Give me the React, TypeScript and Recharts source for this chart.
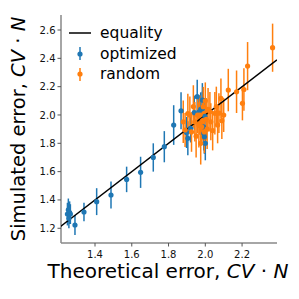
import { ScatterChart, Scatter, XAxis, YAxis, ErrorBar } from 'recharts';

const xTicks = [1.4, 1.6, 1.8, 2.0, 2.2];
const yTicks = [1.2, 1.4, 1.6, 1.8, 2.0, 2.2, 2.4, 2.6];

const equalityEnds = [1.21, 2.39];

const optTheory = [1.25, 1.255, 1.258, 1.262, 1.266, 1.291, 1.34, 1.409, 1.487, 1.572, 1.648, 1.717, 1.777, 1.828, 1.868, 1.898, 1.905, 1.92, 1.94, 1.956, 1.965, 1.975, 1.984, 1.984, 1.99, 1.992, 1.995, 1.998, 2.0];
const optSim = [1.3, 1.33, 1.27, 1.31, 1.3, 1.223, 1.315, 1.388, 1.435, 1.545, 1.595, 1.7, 1.776, 1.929, 2.03, 1.877, 1.835, 1.906, 2.016, 2.129, 2.02, 2.04, 2.105, 2.045, 1.917, 1.87, 1.846, 1.99, 1.8];
const optErr = [0.08, 0.08, 0.07, 0.08, 0.07, 0.07, 0.065, 0.095, 0.095, 0.09, 0.11, 0.1, 0.11, 0.14, 0.13, 0.11, 0.12, 0.1, 0.12, 0.12, 0.11, 0.12, 0.12, 0.12, 0.11, 0.12, 0.12, 0.13, 0.12];

const rndTheory = [1.88, 1.89, 1.905, 1.916, 1.925, 1.935, 1.943, 1.95, 1.958, 1.965, 1.97, 1.975, 1.98, 1.985, 1.989, 1.995, 2.0, 2.005, 2.01, 2.015, 2.025, 2.03, 2.04, 2.052, 2.06, 2.067, 2.074, 2.085, 2.09, 2.1, 2.125, 2.17, 2.202, 2.21, 2.23, 2.366];
const rndSim = [1.952, 1.894, 2.01, 2.0, 1.88, 2.06, 1.952, 1.85, 2.0, 1.93, 2.0, 1.8, 1.917, 1.96, 2.058, 1.88, 2.1, 1.97, 1.9, 2.04, 2.023, 1.952, 1.89, 2.012, 2.06, 1.93, 2.013, 2.117, 1.96, 2.0, 2.176, 2.164, 2.082, 2.18, 2.345, 2.475];
const rndErr = [0.15, 0.12, 0.14, 0.13, 0.14, 0.15, 0.14, 0.15, 0.13, 0.16, 0.14, 0.15, 0.13, 0.14, 0.14, 0.15, 0.13, 0.15, 0.14, 0.15, 0.14, 0.13, 0.14, 0.15, 0.14, 0.13, 0.14, 0.14, 0.13, 0.12, 0.15, 0.15, 0.12, 0.15, 0.17, 0.17];

const BLUE = '#1f77b4';
const ORANGE = '#ff7f0e';
const FONT = 'DejaVu Sans, sans-serif';

const optData = optTheory.map((x, i) => ({ x, y: optSim[i], err: optErr[i] }));
const rndData = rndTheory.map((x, i) => ({ x, y: rndSim[i], err: rndErr[i] }));
const eqData = equalityEnds.map((v) => ({ x: v, y: v }));

const Dot = (props: any) => {
  const { cx, cy, fill } = props;
  if (cx == null || cy == null) return null;
  return <circle cx={cx} cy={cy} r={2.6} fill={fill} />;
};

const MathLabel = () => (
  <>
    <tspan fontStyle="italic">CV</tspan>
    <tspan> · </tspan>
    <tspan fontStyle="italic">N</tspan>
  </>
);

const LegendBox = () => (
  <svg width={130} height={66} style={{ position: 'absolute', left: 64, top: 22, fontFamily: FONT }}>
    <line x1={5} y1={11} x2={27} y2={11} stroke="#000" strokeWidth={1.5} />
    <text x={36} y={16} fontSize={15.5}>equality</text>
    <line x1={16} y1={25} x2={16} y2={38} stroke={BLUE} strokeWidth={1.5} />
    <circle cx={16} cy={32} r={2.6} fill={BLUE} />
    <text x={36} y={37} fontSize={15.5}>optimized</text>
    <line x1={16} y1={46} x2={16} y2={59} stroke={ORANGE} strokeWidth={1.5} />
    <circle cx={16} cy={52} r={2.6} fill={ORANGE} />
    <text x={36} y={57} fontSize={15.5}>random</text>
  </svg>
);

export default function App() {
  return (
    <div style={{ position: 'absolute', left: 0, top: 0, width: 299, height: 299, background: '#fff' }}>
      <ScatterChart width={299} height={299} margin={{ top: 15, right: 22, bottom: 0, left: 0 }}>
        <XAxis
          type="number"
          dataKey="x"
          domain={[1.215, 2.39]}
          ticks={xTicks}
          allowDataOverflow
          height={56}
          tickFormatter={(v: number) => v.toFixed(1)}
          tick={{ fontSize: 10, fill: '#111', fontFamily: FONT }}
          tickSize={3.5}
          tickMargin={4}
          tickLine={{ stroke: '#555' }}
          axisLine={{ stroke: '#888', strokeWidth: 1.5 }}
          label={(p: any) => {
            const vb = p.viewBox;
            return (
              <text x={vb.x + vb.width / 2 - 1} y={vb.y + 35} textAnchor="middle" fontSize={20} fontFamily={FONT} fill="#000">
                Theoretical error, <MathLabel />
              </text>
            );
          }}
        />
        <YAxis
          type="number"
          dataKey="y"
          domain={[1.096, 2.706]}
          ticks={yTicks}
          allowDataOverflow
          width={61}
          tickFormatter={(v: number) => v.toFixed(1)}
          tick={{ fontSize: 10, fill: '#111', fontFamily: FONT }}
          tickSize={3.5}
          tickLine={{ stroke: '#555' }}
          axisLine={{ stroke: '#888', strokeWidth: 1.5 }}
          label={(p: any) => {
            const vb = p.viewBox;
            const cx = 18;
            const cy = vb.y + vb.height / 2;
            return (
              <text x={cx} y={cy} transform={`rotate(-90 ${cx} ${cy})`} textAnchor="middle" dominantBaseline="central" fontSize={19.5} fontFamily={FONT} fill="#000">
                Simulated error, <MathLabel />
              </text>
            );
          }}
        />
        <Scatter name="equality" data={eqData} line={{ stroke: '#000', strokeWidth: 1.5 }} shape={() => null} isAnimationActive={false} legendType="none" />
        <Scatter name="optimized" data={optData} fill={BLUE} shape={Dot} isAnimationActive={false}>
          <ErrorBar dataKey="err" direction="y" width={0} stroke={BLUE} strokeWidth={1.5} />
        </Scatter>
        <Scatter name="random" data={rndData} fill={ORANGE} shape={Dot} isAnimationActive={false}>
          <ErrorBar dataKey="err" direction="y" width={0} stroke={ORANGE} strokeWidth={1.5} />
        </Scatter>
      </ScatterChart>
      <LegendBox />
    </div>
  );
}
